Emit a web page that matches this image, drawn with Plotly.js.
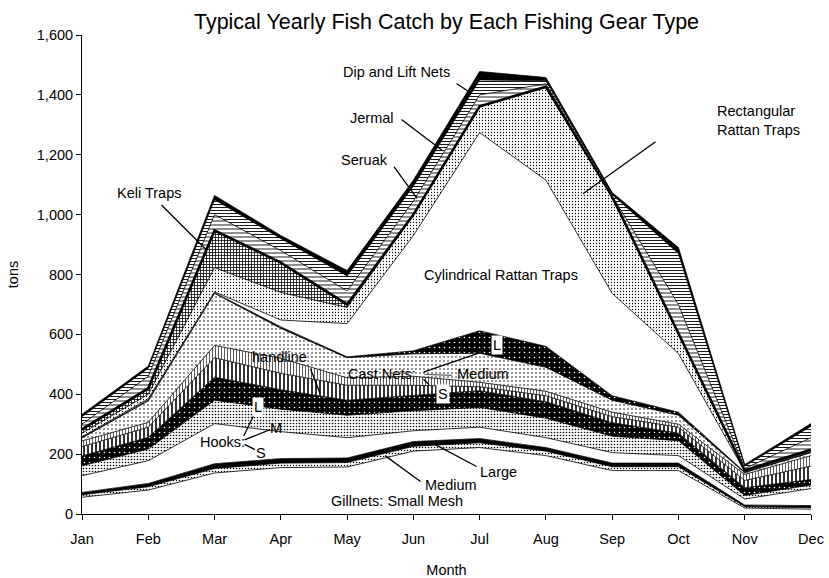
<!DOCTYPE html>
<html>
<head>
<meta charset="utf-8">
<script src="https://cdn.plot.ly/plotly-3.0.1.min.js"></script>
<style>
  html, body { margin: 0; padding: 0; background: #fff; }
  #chart { width: 829px; height: 578px; }
</style>
</head>
<body>
<div id="chart"></div>
<script>
// Monthly catch (tons) per gear type, listed from the bottom of the stack upward.
const months = ['Jan','Feb','Mar','Apr','May','Jun','Jul','Aug','Sep','Oct','Nov','Dec'];

const gillnetSmall  = [56, 80, 137, 155, 157, 210, 222, 195, 145, 145, 20, 16];
const gillnetMedium = [8, 11, 15, 15, 15, 16, 16, 15, 13, 13, 5, 5];
const gillnetLarge  = [8, 11, 16, 15, 15, 16, 14, 12, 12, 12, 5, 7];
const hooksS        = [56, 76, 134, 90, 68, 36, 38, 33, 35, 25, 20, 57];
const hooksM        = [33, 39, 78, 75, 75, 67, 66, 65, 55, 50, 12, 12];
const hooksL        = [33, 39, 77, 65, 50, 50, 56, 55, 45, 25, 26, 18];
const handline      = [31, 34, 65, 55, 50, 35, 13, 20, 20, 20, 24, 45];
const castNetS      = [19, 16, 41, 50, 25, 30, 15, 15, 15, 10, 20, 35];
const castNetMedium = [10, 72, 174, 100, 67, 75, 97, 80, 40, 30, 6, 10];
const castNetL      = [2, 3, 2, 5, 3, 10, 75, 70, 15, 10, 2, 3];
const cylindrical   = [2, 4, 3, 23, 111, 385, 662, 555, 342, 196, 2, 2];
const rectangular   = [12, 15, 81, 92, 54, 67, 86, 310, 321, 65, 2, 3];
const keliTraps     = [13, 20, 124, 100, 10, 3, 2, 2, 2, 4, 2, 2];
const seruak        = [17, 40, 53, 40, 45, 45, 38, 10, 3, 95, 6, 40];
const jermal        = [25, 27, 50, 40, 50, 50, 50, 10, 4, 170, 8, 38];
const dipLiftNets   = [8, 7, 14, 10, 18, 20, 28, 11, 7, 20, 5, 9];

const FONT = 'Liberation Sans, Arial, sans-serif';

// fill styles (grayscale hatching / stipple)
const white = { fillcolor: '#ffffff' };
const black = { fillcolor: '#000000' };
const pat = (shape, size, solidity, fg, bg) => ({
  fillpattern: { shape: shape, size: size, solidity: solidity,
                 fgcolor: fg || '#000', bgcolor: bg || '#fff', fillmode: 'replace' }
});

const layers = [
  ['Gillnets: Small Mesh', gillnetSmall,  white],
  ['Gillnets: Medium',     gillnetMedium, pat('.', 3, 0.2)],
  ['Gillnets: Large',      gillnetLarge,  black],
  ['Hooks: S',             hooksS,        white],
  ['Hooks: M',             hooksM,        pat('.', 3, 0.22)],
  ['Hooks: L',             hooksL,        pat('.', 5, 0.08, '#fff', '#000')],
  ['Handline',             handline,      pat('|', 4, 0.4)],
  ['Cast Nets: S',         castNetS,      pat('|', 3, 0.25, '#222')],
  ['Cast Nets: Medium',    castNetMedium, pat('.', 4, 0.12)],
  ['Cast Nets: L',         castNetL,      pat('.', 5, 0.08, '#fff', '#000')],
  ['Cylindrical Rattan Traps', cylindrical, white],
  ['Rectangular Rattan Traps', rectangular, pat('.', 3, 0.14)],
  ['Keli Traps',           keliTraps,     pat('+', 3, 0.45)],
  ['Seruak',               seruak,        pat('-', 4, 0.22)],
  ['Jermal',               jermal,        pat('-', 3, 0.3)],
  ['Dip and Lift Nets',    dipLiftNets,   black]
];

const traces = layers.map(([name, values, style]) => Object.assign({
  type: 'scatter',
  mode: 'lines',
  name: name,
  x: months,
  y: values,
  stackgroup: 'catch',
  line: { color: '#000', width: name === 'Keli Traps' ? 2.6 : 0.8 },
  hoverinfo: 'skip'
}, style));

const TXT = 14.5;

// text labels placed on the stacked bands
const lbl = (x, y, text, extra) => Object.assign({
  x: x, y: y, xref: 'x', yref: 'y', text: text, showarrow: false,
  font: { family: FONT, size: TXT, color: '#000' }
}, extra || {});

// leader lines: head on the band, tail offset in pixels
const lead = (x, y, ax, ay, color) => ({
  x: x, y: y, xref: 'x', yref: 'y', ax: ax, ay: ay, text: '',
  showarrow: true, arrowhead: 0, arrowwidth: 1.3, arrowcolor: color || '#000'
});

const boxed = { bgcolor: '#fff', borderpad: 1 };

const annotations = [
  lbl(1.011, 1071, 'Keli Traps'),
  lead(1.886, 880, -47, -47),

  lbl(4.738, 1478, 'Dip and Lift Nets'),
  lead(5.855, 1408, -15, -10),

  lbl(4.376, 1324, 'Jermal'),
  lead(5.432, 1215, -42, -32),

  lbl(4.270, 1184, 'Seruak'),
  lead(5.055, 1054, -24, -33),

  lbl(9.55, 1314, 'Rectangular<br>Rattan Traps', { xanchor: 'left', align: 'left' }),
  lead(7.56, 1070, 74, -53),

  lbl(5.131, 797, 'Cylindrical Rattan Traps', { xanchor: 'left' }),

  lbl(2.973, 523, 'handline'),
  lead(3.59, 403, -10, -26),

  lbl(4.527, 466, 'Cast Nets:'),
  lead(6.006, 539, -58, 20),
  lead(5.583, 463, -29, -1, '#666'),
  lead(5.236, 432, -7, -7),
  lbl(6.051, 466, 'Medium'),
  lbl(5.447, 402, 'S', boxed),
  lbl(6.262, 563, 'L', boxed),

  lbl(2.113, 242, 'Hooks:'),
  lead(2.626, 346, -13, 27),
  lead(2.837, 282, -27, 11),
  lead(2.61, 215, -12, -6),
  lbl(2.656, 359, 'L', boxed),
  lbl(2.927, 286, 'M'),
  lbl(2.701, 205, 'S'),

  lbl(6.292, 139, 'Large'),
  lead(5.297, 236, 45, 24),
  lbl(5.568, 98, 'Medium'),
  lead(4.572, 195, 37, 27),
  lbl(4.753, 42, 'Gillnets: Small Mesh')
];

const layout = {
  width: 829,
  height: 578,
  margin: { l: 82, r: 18, t: 35, b: 64 },
  paper_bgcolor: '#fff',
  plot_bgcolor: '#fff',
  showlegend: false,
  font: { family: FONT, color: '#000' },
  title: {
    text: 'Typical Yearly Fish Catch by Each Fishing Gear Type',
    font: { family: FONT, size: 21.5, color: '#000' },
    x: 0.5, xref: 'paper', xanchor: 'center',
    y: 0.962, yref: 'container', yanchor: 'middle'
  },
  xaxis: {
    type: 'category',
    categoryorder: 'array',
    categoryarray: months,
    range: [0, 11],
    showgrid: false,
    zeroline: false,
    showline: true, linecolor: '#000', linewidth: 1,
    ticks: 'outside', ticklen: 5, tickcolor: '#000',
    ticklabelstandoff: 7,
    tickfont: { family: FONT, size: TXT, color: '#000' },
    title: { text: 'Month', font: { family: FONT, size: TXT, color: '#000' }, standoff: 18 }
  },
  yaxis: {
    range: [0, 1600],
    tickvals: [0, 200, 400, 600, 800, 1000, 1200, 1400, 1600],
    tickformat: ',d',
    showgrid: false,
    zeroline: false,
    showline: true, linecolor: '#000', linewidth: 1,
    ticks: 'outside', ticklen: 5, tickcolor: '#000',
    tickfont: { family: FONT, size: TXT, color: '#000' },
    title: { text: 'tons', font: { family: FONT, size: TXT, color: '#000' }, standoff: 14 }
  },
  annotations: annotations
};

Plotly.newPlot('chart', traces, layout, { staticPlot: true, displayModeBar: false });
</script>
</body>
</html>
